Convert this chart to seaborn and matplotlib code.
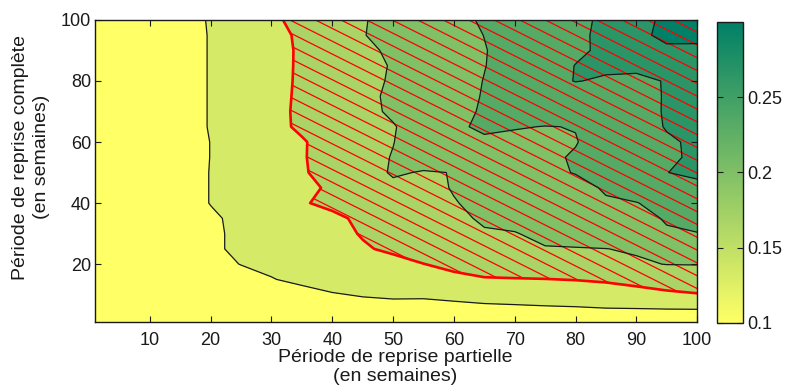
import numpy as np
import matplotlib
matplotlib.use("Agg")
import matplotlib.pyplot as plt
import seaborn as sns
from matplotlib.colors import Normalize
from matplotlib.cm import ScalarMappable

# grille : période de reprise partielle (x) et complète (y), en semaines
partial_weeks = [1, 5, 10, 15, 20, 25, 30, 35, 40, 45, 50, 55, 60, 65, 70, 75, 80, 85, 90, 95, 100]
full_weeks = [1, 5, 10, 15, 20, 25, 30, 35, 40, 45, 50, 55, 60, 65, 70, 75, 80, 85, 90, 95, 100]

# valeurs, une ligne par période complète
z_y001 = [0.1066, 0.1069, 0.1075, 0.1081, 0.1090, 0.1099, 0.1108, 0.1120, 0.1135, 0.1150, 0.1165, 0.1174, 0.1180, 0.1186, 0.1192, 0.1198, 0.1204, 0.1210, 0.1216, 0.1222, 0.1228]
z_y005 = [0.1075, 0.1081, 0.1087, 0.1096, 0.1108, 0.1120, 0.1135, 0.1156, 0.1180, 0.1210, 0.1225, 0.1234, 0.1240, 0.1246, 0.1252, 0.1258, 0.1264, 0.1276, 0.1279, 0.1285, 0.1288]
z_y010 = [0.1084, 0.1090, 0.1096, 0.1108, 0.1126, 0.1150, 0.1186, 0.1231, 0.1285, 0.1315, 0.1330, 0.1324, 0.1345, 0.1375, 0.1390, 0.1414, 0.1435, 0.1480, 0.1510, 0.1555, 0.1585]
z_y015 = [0.1090, 0.1099, 0.1114, 0.1135, 0.1165, 0.1210, 0.1291, 0.1345, 0.1390, 0.1435, 0.1474, 0.1510, 0.1555, 0.1585, 0.1588, 0.1594, 0.1609, 0.1630, 0.1675, 0.1720, 0.1750]
z_y020 = [0.1090, 0.1105, 0.1126, 0.1165, 0.1225, 0.1306, 0.1345, 0.1396, 0.1444, 0.1495, 0.1546, 0.1597, 0.1645, 0.1690, 0.1735, 0.1774, 0.1810, 0.1840, 0.1870, 0.1906, 0.1909]
z_y025 = [0.1090, 0.1105, 0.1135, 0.1180, 0.1264, 0.1342, 0.1402, 0.1462, 0.1522, 0.1582, 0.1630, 0.1690, 0.1750, 0.1804, 0.1852, 0.1888, 0.1888, 0.1897, 0.1924, 0.1960, 0.2005]
z_y030 = [0.1090, 0.1105, 0.1135, 0.1186, 0.1264, 0.1342, 0.1408, 0.1477, 0.1546, 0.1612, 0.1669, 0.1726, 0.1780, 0.1879, 0.1891, 0.1948, 0.1999, 0.2050, 0.2101, 0.2185, 0.2194]
z_y035 = [0.1090, 0.1105, 0.1135, 0.1195, 0.1270, 0.1348, 0.1423, 0.1570, 0.1555, 0.1642, 0.1711, 0.1780, 0.1849, 0.1930, 0.1960, 0.2020, 0.2065, 0.2110, 0.2155, 0.2212, 0.2260]
z_y040 = [0.1090, 0.1105, 0.1135, 0.1210, 0.1306, 0.1393, 0.1489, 0.1582, 0.1648, 0.1708, 0.1768, 0.1828, 0.1888, 0.1960, 0.2035, 0.2110, 0.2179, 0.2185, 0.2194, 0.2260, 0.2335]
z_y045 = [0.1090, 0.1105, 0.1135, 0.1210, 0.1306, 0.1384, 0.1468, 0.1549, 0.1630, 0.1765, 0.1870, 0.1825, 0.1915, 0.1990, 0.2050, 0.2110, 0.2155, 0.2215, 0.2290, 0.2365, 0.2440]
z_y050 = [0.1090, 0.1105, 0.1135, 0.1210, 0.1306, 0.1390, 0.1483, 0.1573, 0.1696, 0.1837, 0.1915, 0.1891, 0.1903, 0.1990, 0.2080, 0.2170, 0.2206, 0.2290, 0.2380, 0.2497, 0.2545]
z_y055 = [0.1090, 0.1105, 0.1135, 0.1210, 0.1303, 0.1396, 0.1489, 0.1582, 0.1693, 0.1810, 0.1912, 0.1960, 0.2011, 0.2065, 0.2116, 0.2164, 0.2218, 0.2290, 0.2365, 0.2470, 0.2530]
z_y060 = [0.1090, 0.1105, 0.1135, 0.1210, 0.1303, 0.1396, 0.1489, 0.1582, 0.1684, 0.1789, 0.1894, 0.2035, 0.2170, 0.2155, 0.2140, 0.2125, 0.2191, 0.2290, 0.2380, 0.2470, 0.2536]
z_y065 = [0.1090, 0.1105, 0.1135, 0.1210, 0.1312, 0.1420, 0.1540, 0.1633, 0.1717, 0.1801, 0.1885, 0.2014, 0.2155, 0.2245, 0.2215, 0.2194, 0.2206, 0.2290, 0.2395, 0.2515, 0.2575]
z_y070 = [0.1090, 0.1105, 0.1135, 0.1210, 0.1312, 0.1420, 0.1537, 0.1639, 0.1738, 0.1834, 0.1936, 0.2041, 0.2143, 0.2221, 0.2269, 0.2317, 0.2365, 0.2413, 0.2461, 0.2509, 0.2560]
z_y075 = [0.1090, 0.1105, 0.1135, 0.1210, 0.1312, 0.1420, 0.1531, 0.1636, 0.1741, 0.1843, 0.1942, 0.2035, 0.2131, 0.2212, 0.2263, 0.2311, 0.2359, 0.2410, 0.2458, 0.2509, 0.2560]
z_y080 = [0.1090, 0.1105, 0.1135, 0.1210, 0.1312, 0.1420, 0.1525, 0.1633, 0.1729, 0.1828, 0.1927, 0.2020, 0.2113, 0.2206, 0.2305, 0.2410, 0.2509, 0.2470, 0.2440, 0.2515, 0.2575]
z_y085 = [0.1090, 0.1105, 0.1135, 0.1210, 0.1312, 0.1417, 0.1525, 0.1630, 0.1726, 0.1822, 0.1918, 0.2008, 0.2101, 0.2194, 0.2290, 0.2383, 0.2506, 0.2545, 0.2560, 0.2635, 0.2695]
z_y090 = [0.1090, 0.1105, 0.1135, 0.1210, 0.1312, 0.1417, 0.1522, 0.1630, 0.1738, 0.1846, 0.1942, 0.2026, 0.2107, 0.2191, 0.2278, 0.2368, 0.2455, 0.2548, 0.2650, 0.2755, 0.2740]
z_y095 = [0.1090, 0.1105, 0.1135, 0.1210, 0.1312, 0.1420, 0.1525, 0.1639, 0.1765, 0.1891, 0.1972, 0.2050, 0.2125, 0.2203, 0.2284, 0.2368, 0.2449, 0.2557, 0.2740, 0.2860, 0.2875]
z_y100 = [0.1090, 0.1105, 0.1135, 0.1210, 0.1318, 0.1438, 0.1558, 0.1669, 0.1777, 0.1885, 0.1972, 0.2059, 0.2143, 0.2224, 0.2299, 0.2368, 0.2446, 0.2542, 0.2725, 0.2845, 0.2905]

levels = [0.1, 0.13, 0.16, 0.19, 0.22, 0.25, 0.28, 0.31]
seuil = 0.16  # zone hachurée en rouge
cbar_ticks = [0.1, 0.15, 0.2, 0.25]

sns.set_theme(style="white")
plt.rcParams['font.family'] = ['Liberation Sans', 'DejaVu Sans']
plt.rcParams['text.color'] = 'k'
plt.rcParams['xtick.color'] = 'k'
plt.rcParams['ytick.color'] = 'k'

Z = np.array([z_y001, z_y005, z_y010, z_y015, z_y020, z_y025, z_y030, z_y035, z_y040, z_y045, z_y050,
              z_y055, z_y060, z_y065, z_y070, z_y075, z_y080, z_y085, z_y090, z_y095, z_y100])
X, Y = np.meshgrid(partial_weeks, full_weeks)

fig = plt.figure(figsize=(7.86, 3.9), dpi=100)
ax = fig.add_axes([0.121, 0.174, 0.766, 0.775])
cax = fig.add_axes([0.912, 0.172, 0.033, 0.772])
ax.set_axisbelow(False)

summer = plt.get_cmap('summer')
couleurs = [summer(1 - k / 6) for k in range(7)]
ax.contourf(X, Y, Z, levels=levels, colors=couleurs)

# hachures rouges dans la zone au-dessus du seuil
zone = ax.contourf(X, Y, Z, levels=[seuil, levels[-1]], colors='none')
clip = zone.get_paths()[0]
for c in np.arange(2.8, 205, 4.2):
    ligne, = ax.plot([0, 101], [c, c - 101], color='red', lw=0.9)
    ligne.set_clip_path(clip, ax.transData)

ax.contour(X, Y, Z, levels=[l for l in levels[1:-1] if l != seuil], colors='k', linewidths=0.9)
ax.contour(X, Y, Z, levels=[seuil], colors='red', linewidths=1.9)

ax.set_xlim(1, 100)
ax.set_ylim(1, 100)
ax.set_xticks(range(10, 101, 10))
ax.set_yticks(range(20, 101, 20))
ax.tick_params(direction='in', length=4, width=0.8, labelsize=13, colors='k',
               top=True, right=True, bottom=True, left=True)
ax.tick_params(axis='x', pad=7)
ax.tick_params(axis='y', pad=3)
for s in ax.spines.values():
    s.set_color('k')
    s.set_linewidth(1.0)
    s.set_zorder(5)

sm = ScalarMappable(norm=Normalize(0.1, 0.3), cmap='summer_r')
cb = fig.colorbar(sm, cax=cax, ticks=cbar_ticks)
cb.ax.set_yticklabels(['0.1', '0.15', '0.2', '0.25'])
cax.set_axisbelow(False)
cax.tick_params(direction='in', length=4, width=0.8, labelsize=13, colors='k',
                left=True, right=True, pad=3)
cb.outline.set_edgecolor('k')
cb.outline.set_linewidth(1.0)

fig.text(0.503, 0.058, "Période de reprise partielle\n(en semaines)", ha='center', va='center',
         fontsize=14, linespacing=1.15)
fig.text(0.040, 0.597, "Période de reprise complète\n(en semaines)", ha='center', va='center',
         rotation=90, fontsize=14, linespacing=1.3)

fig.savefig("out.png", dpi=100)
